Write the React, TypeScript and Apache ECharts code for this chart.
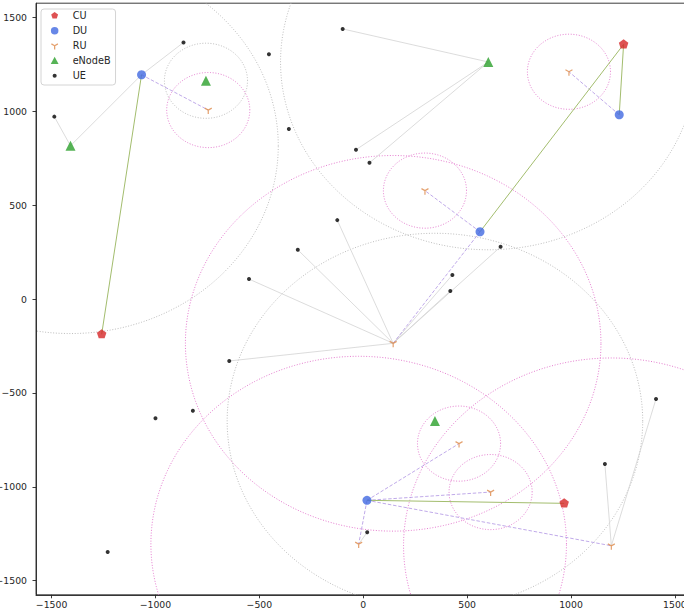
import { useEffect, useRef } from 'react';
import * as echarts from 'echarts';

type P = [number, number];

// Node positions (data units)
const CU: P[] = [[1253, 1356], [-1259, -188], [967, -1088]];
const DU: P[] = [[-1067, 1194], [1232, 981], [562, 358], [18, -1072]];
const RU: P[] = [[-746, 1006], [990, 1210], [297, 577], [144, -236], [461, -770], [613, -1028], [-22, -1305], [1194, -1314]];
const ENB: P[] = [[-757, 1162], [-1409, 816], [602, 1262], [345, -650]];
const UE: P[] = [
  [-865, 1366], [-1487, 971], [-454, 1303], [-99, 1438], [-358, 905], [-35, 795], [30, 725],
  [-125, 420], [-315, 262], [-550, 106], [661, 278], [429, 128], [419, 43], [-645, -330],
  [-1000, -635], [-820, -595], [1163, -879], [1409, -532], [19, -1242], [-1230, -1347],
];

// Coverage radii
const RU_RANGE = [200, 200, 200, 1000, 200, 200, 1000, 1000];
const ENB_RANGE = [200, 1000, 1000, 1000];

// Links (index pairs)
const CU_DU_LINKS: P[] = [[0, 1], [0, 2], [1, 0], [2, 3]];
const DU_RU_LINKS: P[] = [[0, 0], [1, 1], [2, 2], [2, 3], [3, 4], [3, 5], [3, 6], [3, 7]];
const ACCESS_LINKS: [string, number, string, number][] = [
  ['UE', 1, 'ENB', 1], ['ENB', 1, 'DU', 0], ['DU', 0, 'UE', 0],
  ['UE', 3, 'ENB', 2], ['UE', 5, 'ENB', 2], ['UE', 6, 'ENB', 2],
  ['UE', 7, 'RU', 3], ['UE', 8, 'RU', 3], ['UE', 9, 'RU', 3], ['UE', 10, 'RU', 3],
  ['UE', 11, 'RU', 3], ['UE', 12, 'RU', 3], ['UE', 13, 'RU', 3],
  ['UE', 16, 'RU', 7], ['UE', 17, 'RU', 7], ['UE', 18, 'RU', 6],
];

const TICKS = [-1500, -1000, -500, 0, 500, 1000, 1500];
const AXIS_MIN = -1575;
const AXIS_MAX = 1575;

const NODES: Record<string, P[]> = { CU, DU, RU, ENB, UE };

const PENTAGON = 'path://M0,1M0,-1L0.951,-0.309L0.588,0.809L-0.588,0.809L-0.951,-0.309Z';
const TRI_DOWN = 'path://M0,-10M0,10M0,0L0,10M0,0L-8.66,-5M0,0L8.66,-5';

// Legend icons: bounding box padded to the 26x9 legend icon box so each glyph sits centred at its own size
const box = (h: number) => {
  const w = (h * 26) / 9;
  return `M${-w / 2},${-h / 2}M${w / 2},${h / 2}`;
};
const LEG_PENTAGON = 'path://' + box(2.5) + 'M0,-1L0.951,-0.309L0.588,0.809L-0.588,0.809L-0.951,-0.309Z';
const LEG_CIRCLE = 'path://' + box(2.4) + 'M-1,0A1,1 0 1,0 1,0A1,1 0 1,0 -1,0Z';
const LEG_DOT = 'path://' + box(4.4) + 'M-1,0A1,1 0 1,0 1,0A1,1 0 1,0 -1,0Z';
const LEG_TRI = 'path://' + box(24) + 'M0,0L0,10M0,0L-8.66,-5M0,0L8.66,-5';
const LEG_TRIANGLE = 'path://' + box(2.3) + 'M0,-1L1,0.85L-1,0.85Z';

const FONT = 'DejaVu Sans';
const fmt = (v: number) => (v < 0 ? '\u2212' + Math.abs(v) : String(v));

export default function App() {
  const ref = useRef<HTMLDivElement>(null);

  useEffect(() => {
    const chart = echarts.init(ref.current!, undefined, { renderer: 'svg' });

    const circleSeries = (centers: P[], radii: number[], color: string) => ({
      type: 'custom',
      silent: true,
      z: 1,
      clip: true,
      data: centers.map((c, i) => [c[0], c[1], radii[i]]),
      renderItem: (params: any, api: any) => {
        const cx = api.value(0);
        const cy = api.value(1);
        const r = api.value(2);
        const pts: number[][] = [];
        const n = 360;
        for (let i = 0; i <= n; i++) {
          const t = (i / n) * Math.PI * 2;
          pts.push(api.coord([cx + r * Math.cos(t), cy + r * Math.sin(t)]));
        }
        const cs = params.coordSys;
        return {
          type: 'polyline',
          shape: { points: pts },
          style: { stroke: color, fill: null, lineWidth: 1, lineDash: [1, 1.7] },
          clipPath: { type: 'rect', shape: { x: cs.x, y: cs.y, width: cs.width, height: cs.height } },
        };
      },
    });

    const linkSeries = (data: P[][], color: string, width: number, type: any, z: number) => ({
      type: 'lines',
      coordinateSystem: 'cartesian2d',
      silent: true,
      z,
      data: data.map((coords) => ({ coords })),
      lineStyle: { color, width, type, opacity: 1 },
    });

    const cuDu = CU_DU_LINKS.map(([a, b]) => [CU[a], DU[b]]);
    const duRu = DU_RU_LINKS.map(([a, b]) => [DU[a], RU[b]]);
    const access = ACCESS_LINKS.map(([ka, a, kb, b]) => [NODES[ka][a], NODES[kb][b]]);

    const axisCommon = {
      type: 'value',
      min: AXIS_MIN,
      max: AXIS_MAX,
      splitLine: { show: false },
      axisLine: { show: true, onZero: false, lineStyle: { color: '#262626', width: 0.9 } },
      axisTick: { show: true, length: 3.5, customValues: TICKS, lineStyle: { color: '#262626', width: 0.9 } },
      axisLabel: { customValues: TICKS, formatter: fmt, fontSize: 9.3, fontFamily: FONT, color: '#262626' },
    };

    chart.setOption({
      animation: false,
      backgroundColor: '#ffffff',
      grid: {
        left: 36, top: 3.2, width: 654.5, height: 591.6,
        show: true, borderColor: '#262626', borderWidth: 0.9,
        containLabel: false, outerBoundsMode: 'none',
      },
      xAxis: { ...axisCommon, axisLabel: { ...axisCommon.axisLabel, margin: 5 } },
      yAxis: { ...axisCommon, axisLabel: { ...axisCommon.axisLabel, margin: 9 } },
      legend: {
        orient: 'vertical',
        left: 41,
        top: 9,
        itemWidth: 26,
        itemHeight: 9,
        itemGap: 4,
        padding: [1.2, 5, 3.8, 0],
        backgroundColor: 'rgba(255,255,255,0.85)',
        borderColor: '#d4d4d4',
        borderWidth: 1,
        borderRadius: 3,
        textStyle: { fontSize: 9.7, fontFamily: FONT, color: '#262626', lineHeight: 11 },
        data: [
          { name: 'CU', icon: LEG_PENTAGON },
          { name: 'DU', icon: LEG_CIRCLE },
          { name: 'RU', icon: LEG_TRI, itemStyle: { color: 'rgba(0,0,0,0)', borderColor: '#dd8a4a', borderWidth: 1.3 } },
          { name: 'eNodeB', icon: LEG_TRIANGLE },
          { name: 'UE', icon: LEG_DOT },
        ],
      },
      series: [
        circleSeries(ENB, ENB_RANGE, '#bdbdbd'),
        circleSeries(RU, RU_RANGE, '#e57ccf'),
        linkSeries(access as any, '#d3d3d3', 0.8, 'solid', 2),
        linkSeries(duRu as any, '#b9a0e6', 0.9, [3.5, 1.8], 3),
        linkSeries(cuDu as any, '#a3bd6e', 1, 'solid', 3),
        { name: 'CU', type: 'scatter', z: 5, data: CU, symbol: PENTAGON, symbolSize: [9.5, 10], itemStyle: { color: '#d62728' } },
        { name: 'DU', type: 'scatter', z: 5, data: DU, symbol: 'circle', symbolSize: 9, itemStyle: { color: '#4169e1' } },
        {
          name: 'RU', type: 'scatter', z: 5, data: RU, symbol: TRI_DOWN, symbolSize: [7, 8],
          itemStyle: { color: 'rgba(0,0,0,0)', borderColor: '#dd8a4a', borderWidth: 1.3 },
        },
        { name: 'eNodeB', type: 'scatter', z: 5, data: ENB, symbol: 'triangle', symbolSize: 10, itemStyle: { color: '#2ca02c' } },
        { name: 'UE', type: 'scatter', z: 6, data: UE, symbol: 'circle', symbolSize: 4, itemStyle: { color: '#000000' } },
      ],
    });

    return () => chart.dispose();
  }, []);

  return (
    <div style={{ position: 'fixed', left: 0, top: 0, width: 684, height: 613, overflow: 'hidden', background: '#fff' }}>
      <div ref={ref} style={{ position: 'absolute', left: 0, top: 0, width: 700, height: 613 }} />
    </div>
  );
}
